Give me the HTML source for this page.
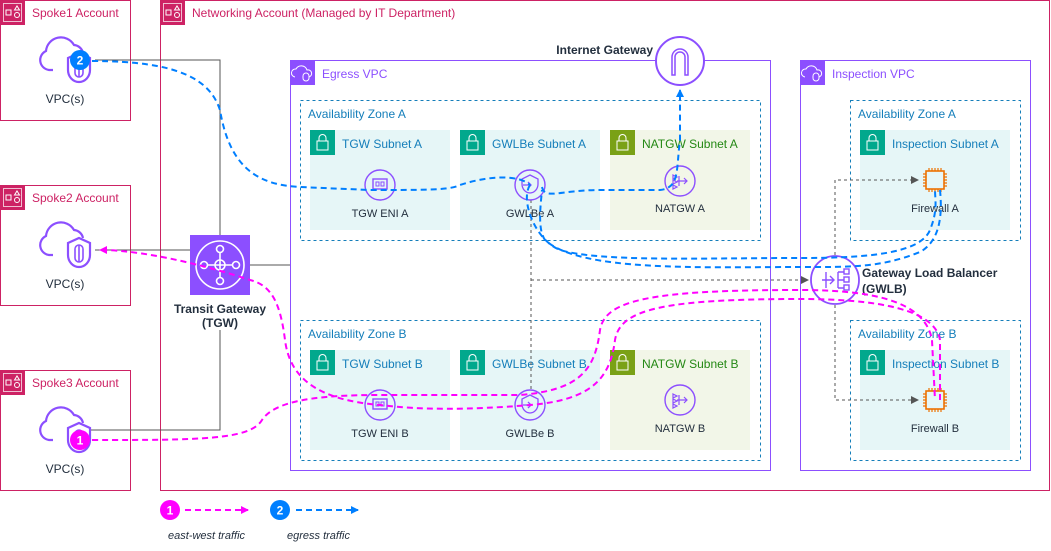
<!DOCTYPE html>
<html><head><meta charset="utf-8"><style>
html,body{margin:0;padding:0;background:#fff;}
svg{display:block;font-family:"Liberation Sans",Arial,sans-serif;}
</style></head><body>
<svg width="1051" height="551" viewBox="0 0 1051 551" xmlns="http://www.w3.org/2000/svg">
<defs>
<marker id="am" markerWidth="8" markerHeight="8" refX="7" refY="4" orient="auto" markerUnits="userSpaceOnUse"><path d="M0,0 L8,4 L0,8 z" fill="#FF00FF"/></marker>
<marker id="ab" markerWidth="8" markerHeight="8" refX="7" refY="4" orient="auto" markerUnits="userSpaceOnUse"><path d="M0,0 L8,4 L0,8 z" fill="#007FFF"/></marker>
<marker id="ag" markerWidth="8" markerHeight="8" refX="7" refY="4" orient="auto" markerUnits="userSpaceOnUse"><path d="M0,0 L8,4 L0,8 z" fill="#555"/></marker>
<g id="acct"><rect x="0" y="0" width="25" height="25" fill="#CD2264"/><rect x="3.5" y="3.5" width="18" height="18" fill="none" stroke="#fff" stroke-width="0.7"/><rect x="6" y="10" width="5" height="5" fill="none" stroke="#fff"/><path d="M14.5,10 l2.5,-4 2.5,4z" fill="none" stroke="#fff"/><circle cx="17" cy="15" r="2.5" fill="none" stroke="#fff"/></g>
<g id="lock"><rect x="0" y="0" width="25" height="25" fill="#01A88D"/><rect x="7" y="11" width="11" height="9" fill="none" stroke="#fff"/><path d="M9,11 v-3 a3.5,3.5 0 0 1 7,0 v3" fill="none" stroke="#fff"/></g>
<g id="lockg"><rect x="0" y="0" width="25" height="25" fill="#7AA116"/><rect x="7" y="11" width="11" height="9" fill="none" stroke="#fff"/><path d="M9,11 v-3 a3.5,3.5 0 0 1 7,0 v3" fill="none" stroke="#fff"/></g>
<g id="vpcl"><rect x="0" y="0" width="25" height="25" fill="#8C4FFF"/><path d="M5,17 a4,4 0 0 1 1,-8 a6,6 0 0 1 11,1 a3.5,3.5 0 0 1 2,7" fill="none" stroke="#fff"/><rect x="13" y="13" width="6" height="8" rx="3" fill="none" stroke="#fff"/></g>
<g id="cloud">
<path d="M-12,10 H-16 A10,10 0 0 1 -19,-9 A15,15 0 0 1 9,-15 A10,10 0 0 1 18,-7" fill="none" stroke="#8C4FFF" stroke-width="2.2"/>
<path d="M3,-2 L14,-7 L25,-2 V10 A11,12 0 0 1 3,10 Z" fill="#fff" stroke="#8C4FFF" stroke-width="2.2"/>
<rect x="10" y="0" width="8" height="17" rx="4" fill="none" stroke="#8C4FFF" stroke-width="1.6"/><path d="M14,0 V17" stroke="#8C4FFF" stroke-width="1.6"/>
</g>
<g id="eni"><circle r="15" fill="none" stroke="#8C4FFF" stroke-width="1.4"/><rect x="-7" y="-6" width="14" height="10" fill="none" stroke="#8C4FFF" stroke-width="1.4"/><rect x="-4" y="-3" width="3" height="4" fill="none" stroke="#8C4FFF"/><rect x="1" y="-3" width="3" height="4" fill="none" stroke="#8C4FFF"/></g>
<g id="gwe"><circle r="15" fill="none" stroke="#8C4FFF" stroke-width="1.4"/><path d="M0,-10 l8,4 v5 a8,9 0 0 1 -16,0 v-5z" fill="none" stroke="#8C4FFF" stroke-width="1.3"/><path d="M-7,0 h8 m-3,-3 l3,3 -3,3" fill="none" stroke="#8C4FFF" stroke-width="1.3"/></g>
<g id="nat"><circle r="15" fill="none" stroke="#8C4FFF" stroke-width="1.4"/><path d="M-7,-6 l4,2 -4,2z M-7,-1 l4,2 -4,2z M-7,4 l4,2 -4,2z M-3,0 h10 m-3,-3 l3,3 -3,3 M-1,-5 v10" fill="none" stroke="#8C4FFF" stroke-width="1.2"/></g>
<g id="fw"><rect x="-9" y="-9" width="18" height="18" fill="none" stroke="#ED7100" stroke-width="1.6"/><path d="M-6,-9 v-3 M-3,-9 v-3 M0,-9 v-3 M3,-9 v-3 M6,-9 v-3 M-6,9 v3 M-3,9 v3 M0,9 v3 M3,9 v3 M6,9 v3 M-9,-6 h-3 M-9,-3 h-3 M-9,0 h-3 M-9,3 h-3 M-9,6 h-3 M9,-6 h3 M9,-3 h3 M9,0 h3 M9,3 h3 M9,6 h3" stroke="#ED7100" stroke-width="1.2"/></g>
</defs>

<!-- Spoke accounts -->
<g font-size="12" fill="#CD2264">
<rect x="0.5" y="0.5" width="130" height="120" fill="none" stroke="#CD2264"/><use href="#acct" x="0" y="0"/><text x="32" y="17">Spoke1 Account</text>
<rect x="0.5" y="185.5" width="130" height="120" fill="none" stroke="#CD2264"/><use href="#acct" x="0" y="185"/><text x="32" y="202">Spoke2 Account</text>
<rect x="0.5" y="370.5" width="130" height="120" fill="none" stroke="#CD2264"/><use href="#acct" x="0" y="370"/><text x="32" y="387">Spoke3 Account</text>
<rect x="160.5" y="0.5" width="889" height="490" fill="none" stroke="#CD2264"/><use href="#acct" x="160" y="0"/><text x="192" y="17">Networking Account (Managed by IT Department)</text>
</g>

<!-- Egress VPC -->
<rect x="290.5" y="60.5" width="480" height="410" fill="none" stroke="#8C4FFF"/><use href="#vpcl" x="290" y="60"/><text x="322" y="78" font-size="12" fill="#8C4FFF">Egress VPC</text>
<g fill="none" stroke="#147EBA" stroke-dasharray="3,3">
<rect x="300.5" y="100.5" width="460" height="140"/><rect x="300.5" y="320.5" width="460" height="140"/>
<rect x="850.5" y="100.5" width="170" height="140"/><rect x="850.5" y="320.5" width="170" height="140"/>
</g>
<g font-size="12" fill="#147EBA"><text x="308" y="118">Availability Zone A</text><text x="308" y="338">Availability Zone B</text><text x="858" y="118">Availability Zone A</text><text x="858" y="338">Availability Zone B</text></g>
<g fill="#E6F6F7"><rect x="310" y="130" width="140" height="100"/><rect x="460" y="130" width="140" height="100"/><rect x="310" y="350" width="140" height="100"/><rect x="460" y="350" width="140" height="100"/><rect x="860" y="130" width="150" height="100"/><rect x="860" y="350" width="150" height="100"/></g>
<g fill="#F2F6E8"><rect x="610" y="130" width="140" height="100"/><rect x="610" y="350" width="140" height="100"/></g>
<use href="#lock" x="310" y="130"/><use href="#lock" x="460" y="130"/><use href="#lockg" x="610" y="130"/>
<use href="#lock" x="310" y="350"/><use href="#lock" x="460" y="350"/><use href="#lockg" x="610" y="350"/>
<use href="#lock" x="860" y="130"/><use href="#lock" x="860" y="350"/>
<g font-size="12" fill="#147EBA"><text x="342" y="148">TGW Subnet A</text><text x="492" y="148">GWLBe Subnet A</text><text x="342" y="368">TGW Subnet B</text><text x="492" y="368">GWLBe Subnet B</text><text x="892" y="148">Inspection Subnet A</text><text x="892" y="368">Inspection Subnet B</text></g>
<g font-size="12" fill="#248814"><text x="642" y="148">NATGW Subnet A</text><text x="642" y="368">NATGW Subnet B</text></g>

<!-- Inspection VPC -->
<rect x="800.5" y="60.5" width="230" height="410" fill="none" stroke="#8C4FFF"/><use href="#vpcl" x="800" y="60"/><text x="832" y="78" font-size="12" fill="#8C4FFF">Inspection VPC</text>

<!-- Gray solid lines -->
<g fill="none" stroke="#555" stroke-width="1">
<path d="M95,60 H220 V235"/><path d="M250,265 H290"/><path d="M220,330 V430 H90"/><path d="M95,250 H190"/>
</g>
<!-- Gray dashed -->
<g fill="none" stroke="#555" stroke-width="1" stroke-dasharray="3,3">
<path d="M531,200 V392"/><path d="M531,280 H808" marker-end="url(#ag)"/>
<path d="M835,255 V180 H918" marker-end="url(#ag)"/><path d="M835,305 V400 H918" marker-end="url(#ag)"/>
</g>

<!-- Spoke clouds -->
<use href="#cloud" x="65" y="60"/>
<use href="#cloud" x="65" y="245"/>
<use href="#cloud" x="65" y="430"/>
<g font-size="12" fill="#232F3E" text-anchor="middle"><text x="65" y="103">VPC(s)</text><text x="65" y="288">VPC(s)</text><text x="65" y="473">VPC(s)</text></g>

<!-- Icons -->
<use href="#eni" x="380" y="185"/><use href="#gwe" x="530" y="185"/><use href="#nat" x="680" y="181"/>
<use href="#eni" x="380" y="405"/><use href="#gwe" x="530" y="405"/><use href="#nat" x="680" y="400"/>
<use href="#fw" x="935" y="180"/><use href="#fw" x="935" y="400"/>
<g font-size="11" fill="#232F3E" text-anchor="middle"><text x="380" y="217">TGW ENI A</text><text x="530" y="217">GWLBe A</text><text x="680" y="212">NATGW A</text><text x="380" y="437">TGW ENI B</text><text x="530" y="437">GWLBe B</text><text x="680" y="432">NATGW B</text><text x="935" y="212">Firewall A</text><text x="935" y="432">Firewall B</text></g>

<!-- IGW -->
<circle cx="680" cy="61" r="24" fill="#fff" stroke="#8C4FFF" stroke-width="2"/>
<path d="M672,75 V57 a8,8 0 0 1 16,0 V75 h-3 V57 a5,5 0 0 0 -10,0 V75 z" fill="none" stroke="#8C4FFF" stroke-width="1.5"/>
<text x="653" y="54" font-size="12" font-weight="bold" text-anchor="end" fill="#232F3E">Internet Gateway</text>

<!-- TGW -->
<rect x="190" y="235" width="60" height="60" fill="#8C4FFF"/>
<g fill="none" stroke="#fff" stroke-width="1.6"><circle cx="220" cy="265" r="24"/><circle cx="220" cy="265" r="5"/><path d="M200,265 H240 M220,245 V285"/><circle cx="220" cy="249" r="3.5" fill="#8C4FFF"/><circle cx="220" cy="281" r="3.5" fill="#8C4FFF"/><circle cx="204" cy="265" r="3.5" fill="#8C4FFF"/><circle cx="236" cy="265" r="3.5" fill="#8C4FFF"/></g>
<g font-size="12" font-weight="bold" fill="#232F3E" text-anchor="middle"><text x="220" y="313">Transit Gateway</text><text x="220" y="327">(TGW)</text></g>

<!-- GWLB -->
<circle cx="835" cy="280" r="24" fill="#fff" stroke="#8C4FFF" stroke-width="1.8"/>
<g fill="none" stroke="#8C4FFF" stroke-width="1.4"><path d="M822,280 h12 m-4,-4 l4,4 -4,4 M826,272 v16 M838,272 v16 M838,272 h6 M838,288 h6 M838,280 h6"/><rect x="844" y="269" width="5" height="5"/><rect x="844" y="277" width="5" height="5"/><rect x="844" y="285" width="5" height="5"/></g>
<g font-size="12" font-weight="bold" fill="#232F3E"><text x="862" y="277">Gateway Load Balancer</text><text x="862" y="293">(GWLB)</text></g>

<!-- Blue egress -->
<g fill="none" stroke="#007FFF" stroke-width="2" stroke-dasharray="6,4">
<path d="M92,61 C180,61 210,80 220,110 C230,170 260,185 300,187 L370,190 C430,190 450,190 460,185 C490,175 520,175 530,185"/>
<path d="M530,185 C520,200 535,240 560,250 C600,262 700,258 800,258 C860,258 920,255 930,230 C938,210 935,200 935,190"/>
<path d="M940,190 C942,210 942,240 920,252 C880,268 850,267 800,267 C700,267 580,272 545,240 C538,230 540,210 542,190"/>
<path d="M542,187 C545,200 560,190 600,190 L660,190 C680,188 676,170 680,140 L680,90" marker-end="url(#ab)"/>
</g>
<!-- Magenta east-west -->
<g fill="none" stroke="#FF00FF" stroke-width="2" stroke-dasharray="6,4">
<path d="M92,440 C200,440 250,440 262,420 C275,400 320,395 380,395 L520,395 C580,390 595,370 600,330 C605,300 650,290 800,290 C870,290 925,300 932,340 L935,400"/>
<path d="M940,400 L940,340 C935,310 880,299 800,299 C660,299 620,310 615,340 C610,380 590,400 530,405 C470,410 420,410 380,405 C320,400 290,380 285,340 C280,300 270,285 250,280 C220,270 150,250 100,250" marker-end="url(#am)"/>
</g>
<!-- Badges -->
<circle cx="80" cy="60" r="10" fill="#007FFF"/><text x="80" y="64.5" font-size="12" font-weight="bold" fill="#fff" text-anchor="middle">2</text>
<circle cx="80" cy="440" r="10" fill="#FF00FF"/><text x="80" y="444.5" font-size="12" font-weight="bold" fill="#fff" text-anchor="middle">1</text>

<!-- Legend -->
<circle cx="170" cy="510" r="10" fill="#FF00FF"/><text x="170" y="514.5" font-size="12" font-weight="bold" fill="#fff" text-anchor="middle">1</text>
<path d="M185,510 H248" stroke="#FF00FF" stroke-width="2" stroke-dasharray="6,4" marker-end="url(#am)"/>
<circle cx="280" cy="510" r="10" fill="#007FFF"/><text x="280" y="514.5" font-size="12" font-weight="bold" fill="#fff" text-anchor="middle">2</text>
<path d="M296,510 H358" stroke="#007FFF" stroke-width="2" stroke-dasharray="6,4" marker-end="url(#ab)"/>
<g font-size="11" font-style="italic" fill="#232F3E"><text x="168" y="539">east-west traffic</text><text x="287" y="539">egress traffic</text></g>
</svg>
</body></html>
